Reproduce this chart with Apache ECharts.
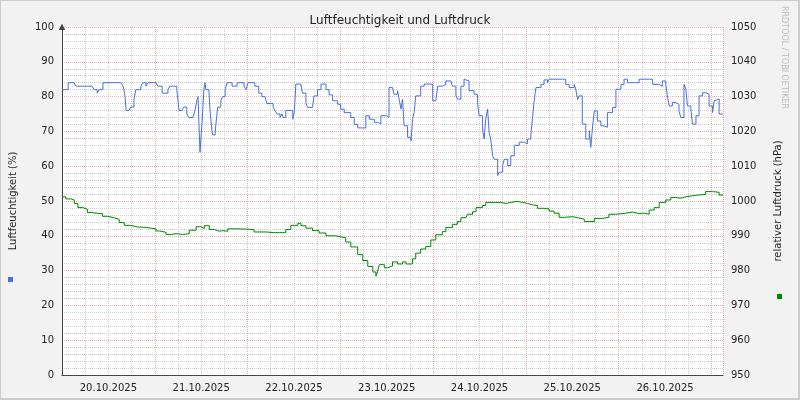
<!DOCTYPE html>
<html>
<head>
<meta charset="utf-8">
<script src="https://cdn.jsdelivr.net/npm/echarts@6/dist/echarts.min.js"></script>
<style>
  html, body { margin: 0; padding: 0; background: #f2f2f2; }
  #chart { width: 800px; height: 400px; }
</style>
</head>
<body>
<div id="chart"></div>
<script>
// Stunden ab 20.10.2025 00:00
var dayLabels = ['20.10.2025', '21.10.2025', '22.10.2025', '23.10.2025', '24.10.2025', '25.10.2025', '26.10.2025'];

var humHours = [0,1.0,1.6,3.1,3.6,7.8,8.3,9.1,9.6,10.1,10.6,15.3,15.8,16.0,16.3,16.6,17.3,17.8,18.6,19.1,20.4,20.9,21.7,22.2,24.3,24.8,25.9,26.6,27.4,27.9,28.7,29.7,30.0,30.3,31.0,31.5,32.3,32.8,33.9,34.4,34.9,35.2,35.4,35.7,35.9,36.2,36.7,37.0,37.2,38.0,38.3,38.8,39.0,39.6,39.8,40.3,41.1,41.6,42.2,42.7,43.4,44.0,44.7,45.3,46.3,47.1,47.6,48.1,48.9,49.9,50.9,51.7,52.5,53.0,54.0,54.6,55.1,55.6,56.4,56.9,57.2,57.9,
  59.7,60.1,60.5,61.8,62.2,63.1,63.5,64.8,65.2,66.1,67.0,68.3,69.1,70.0,71.3,72.1,73.0,74.7,75.6,76.5,77.8,78.6,79.5,80.8,81.6,82.5,83.8,84.2,84.6,85.5,85.9,86.8,87.2,87.7,88.1,88.5,89.4,90.3,90.7,91.1,91.5,92.8,93.7,95.0,95.4,95.9,96.7,97.2,98.4,99.3,100.6,101.0,101.9,102.3,103.2,104.0,104.5,105.3,106.6,107.5,107.9,108.8,109.2,109.6,110.1,110.5,110.9,111.4,111.8,112.7,113.1,114.0,114.4,115.3,116.1,117.0,
  118.3,119.6,120.4,121.3,121.7,122.1,122.6,123.9,124.7,125.6,126.0,129.5,130.3,131.2,132.5,132.9,133.4,133.8,134.6,135.5,136.4,136.8,137.2,137.7,138.5,139.4,140.2,141.1,142.4,143.3,144.6,145.4,146.3,148.4,149.3,151.9,152.8,154.5,155.3,156.2,156.6,157.1,157.9,158.8,159.6,160.1,160.9,161.4,161.8,162.7,163.1,164.0,164.8,165.7,166.5,167.4,168.3,168.7,169.1,170.0,171.0];
var humValues = [82,82,84,84,83,83,82,81,82,82,84,84,83,82,80,76,76,77,79,82,83,84,83,84,84,83,81,81,82,83,83,82,79,76,76,77,75,74,74,76,79,80,73,64,64,72,82,84,82,82,76,70,69,69,72,77,79,80,82,84,84,83,83,84,84,83,82,84,84,83,81,80,80,78,78,77,76,75,74,75,74,76,
  73.5,75.6,83.6,83.6,81,78.3,76.9,76.9,80.2,82,83.6,82,80.5,78.8,77.8,76.4,75.4,74,72,71,71,74.5,73.5,72.6,72.2,74.5,74.5,74,82.6,82.6,80.7,81.7,79.3,76.4,79.3,71.6,68.3,67.3,73.5,75.4,80.2,83,83.6,84,83.5,78.8,78.8,83,83.5,84.5,84.5,83,80.2,79.3,83,85,84.5,81.7,80.7,78.3,74.5,70.7,67.8,73.5,76.4,69.7,67.8,63,62,57.3,58.3,60.2,62,60.2,63,66,
  66.9,66.4,67.8,69.2,73.5,78.3,82.6,83.5,84.8,84,85,85,83.5,82.6,83.5,82.1,79.2,80.2,72.1,67.8,70.2,65.4,70.7,75.9,73,71.6,71.2,75.4,76.9,82.1,83.5,85,84,84,85,85,83.5,83,84.5,83.5,80.2,77.3,78.3,77.8,75.9,74,83.5,82.1,77.3,76.4,72.1,74.5,80.2,81.1,80.7,77.3,75.4,78.8,79.3,75,75];

var presHours = [0,1.0,2.3,3.2,4.1,5.4,6.6,7.5,9.6,10.5,11.8,13.5,14.8,16.1,17.8,19.6,20.9,24.3,25.2,26.9,28.2,29.5,31.2,32.9,34.7,35.9,36.8,38.1,39.4,40.7,41.6,42.9,45.0,48.4,49.7,52.8,54.9,56.2,57.9,59.2,61.0,61.8,63.1,64.8,66.5,68.3,70.9,72.1,73.4,74.7,76.5,77.8,79.1,80.4,81.2,81.6,82.1,83.4,84.2,84.6,
  85.5,86.8,88.1,89.0,89.8,90.7,91.5,92.8,94.1,95.4,96.7,98.4,99.3,101.0,102.3,103.2,104.5,104.9,106.2,107.1,108.8,109.6,112.2,113.5,114.8,116.1,117.8,119.1,120.4,121.7,123.0,124.7,126.0,127.3,128.6,129.9,132.1,133.4,135.1,136.4,137.7,139.8,141.5,143.3,145.9,147.6,149.3,150.6,151.9,153.2,154.5,156.2,157.5,158.8,160.1,161.4,163.1,164.4,166.5,168.3,170.0,171.0];
var presValues = [1001.2,1000.6,1000.3,999.3,998.1,997.6,996.7,996.4,996.4,995.6,995.2,994.7,993.8,993.0,992.5,992.5,992.0,991.4,991.0,990.4,990.6,990.4,990.6,991.6,992.6,992.1,992.9,991.8,991.3,991.5,991.3,992.0,991.9,991.7,991.1,990.9,990.9,990.9,991.8,993.0,993.6,992.9,992.2,991.5,990.8,990.0,989.7,989.4,988.2,986.8,984.6,982.9,981.2,979.6,978.4,979.6,981.7,980.8,980.3,981.3,
  982.5,981.9,982.5,981.9,981.9,983.4,985.0,986.2,986.9,988.8,990.3,991.2,992.4,993.3,994.1,995.2,995.3,996.2,996.9,998.1,998.7,999.6,999.6,999.3,999.6,999.9,999.6,999.3,998.9,998.7,997.9,997.7,997.1,996.5,995.3,995.5,995.2,994.8,994.1,994.1,995.0,995.3,996.2,996.5,996.8,996.4,996.5,996.2,997.4,998.1,999.6,1000.3,1001.0,1000.8,1001.2,1001.5,1001.7,1001.9,1002.7,1002.5,1001.7,1001.7];

var humData = humHours.map(function (h, i) { return [h, humValues[i]]; });
var presData = presHours.map(function (h, i) { return [h, presValues[i]]; });

var red = 'rgba(230,120,120,0.6)';
var gray = '#cfcfcf';
var txt = { color: '#222', fontFamily: 'DejaVu Sans', fontSize: 10 };

var chart = echarts.init(document.getElementById('chart'));
chart.setOption({
  backgroundColor: '#f2f2f2',
  animation: false,
  title: {
    text: 'Luftfeuchtigkeit und Luftdruck',
    left: 'center', top: 10,
    textStyle: { color: '#222', fontFamily: 'DejaVu Sans', fontSize: 12, fontWeight: 'normal' }
  },
  grid: { left: 61, right: 77, top: 27, bottom: 25, backgroundColor: '#fff', show: true, borderWidth: 0 },
  xAxis: [{
    // Mitternacht: rote Linien, alle 6h graue Linien
    type: 'value', min: 0, max: 171, interval: 24,
    axisLine: { lineStyle: { color: '#444' } },
    axisTick: { show: false },
    axisLabel: { show: false },
    splitLine: { show: true, lineStyle: { type: 'dotted', color: red } },
    minorSplitLine: { show: true, lineStyle: { type: 'dotted', color: gray } },
    minorTick: { show: false, splitNumber: 4 }
  }, {
    // Datumsbeschriftung jeweils mittags
    type: 'value', min: 0, max: 171, interval: 12, position: 'bottom',
    axisLine: { show: false }, axisTick: { show: false }, splitLine: { show: false },
    axisLabel: Object.assign({}, txt, {
      showMaxLabel: false,
      formatter: function (v) { return v % 24 === 12 ? dayLabels[(v - 12) / 24] : ''; }
    })
  }],
  yAxis: [{
    type: 'value', min: 0, max: 100, interval: 10,
    name: 'Luftfeuchtigkeit (%)', nameLocation: 'middle', nameGap: 44, nameRotate: 90,
    nameTextStyle: txt,
    axisLine: { show: true, lineStyle: { color: '#444' }, symbol: ['none', 'triangle'], symbolSize: [6, 6] },
    axisTick: { show: false },
    axisLabel: txt,
    splitLine: { lineStyle: { type: 'dotted', color: red } },
    minorSplitLine: { show: true, lineStyle: { type: 'dotted', color: gray } },
    minorTick: { show: false, splitNumber: 5 }
  }, {
    type: 'value', min: 950, max: 1050, interval: 10,
    name: 'relativer Luftdruck (hPa)', nameLocation: 'middle', nameGap: 50, nameRotate: 90,
    nameTextStyle: txt,
    axisLine: { show: true, lineStyle: { color: '#444' }, symbol: ['none', 'triangle'], symbolSize: [6, 6] },
    axisTick: { show: false },
    axisLabel: Object.assign({}, txt, { formatter: function (v) { return String(v); } }),
    splitLine: { show: false }
  }],
  series: [{
    name: 'Luftfeuchtigkeit', type: 'line', step: 'end', data: humData,
    showSymbol: false, lineStyle: { color: '#4a6fe3', width: 1 }, itemStyle: { color: '#4a6fe3' }
  }, {
    name: 'Luftdruck', type: 'line', step: 'end', yAxisIndex: 1, data: presData,
    showSymbol: false, lineStyle: { color: '#008800', width: 1 }, itemStyle: { color: '#008800' }
  }],
  graphic: [
    { type: 'rect', shape: { x: 8, y: 277, width: 5, height: 5 }, style: { fill: '#4a6fe3' } },
    { type: 'rect', shape: { x: 777, y: 294, width: 5, height: 5 }, style: { fill: '#008800' } },
    { type: 'text', x: 788, y: 6, rotation: -Math.PI / 2,
      style: { text: 'RRDTOOL / TOBI OETIKER', fill: '#bbb', font: '8px DejaVu Sans' } },
    { type: 'rect', shape: { x: 0, y: 0, width: 799, height: 399 }, style: { fill: 'none', stroke: '#ccc', lineWidth: 2 } }
  ]
});
</script>
</body>
</html>
